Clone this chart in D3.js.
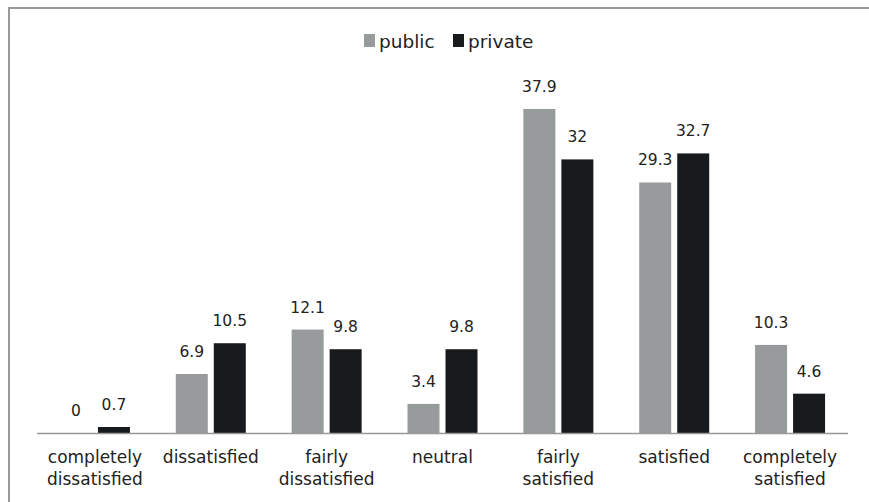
<!DOCTYPE html>
<html>
<head>
<meta charset="utf-8">
<script src="https://cdn.jsdelivr.net/npm/d3@7"></script>
<style>
  body { margin: 0; background: #fff; }
  text { font-family: "DejaVu Sans", sans-serif; fill: #222; }
</style>
</head>
<body>
<div id="chart"></div>
<script>
// grouped bars: satisfaction, public vs private
const categories = [
  ["completely", "dissatisfied"],
  ["dissatisfied"],
  ["fairly", "dissatisfied"],
  ["neutral"],
  ["fairly", "satisfied"],
  ["satisfied"],
  ["completely", "satisfied"]
];
const seriesNames = ["public", "private"];
const publicValues = [0, 6.9, 12.1, 3.4, 37.9, 29.3, 10.3];
const privateValues = [0.7, 10.5, 9.8, 9.8, 32, 32.7, 4.6];
const colors = {public: "#989b9b", private: "#181b1d"};

const width = 869, height = 502;
const margin = {top: 91, left: 37, right: 21, bottom: 69};

const data = categories.map((c, i) => ({
  key: c.join(" "),
  lines: c,
  public: publicValues[i],
  private: privateValues[i]
}));

const svg = d3.select("#chart")
  .append("svg")
  .attr("width", width)
  .attr("height", height);

// frame (only top and left edges visible)
svg.append("path")
  .attr("d", `M9,${height} V8 H${width}`)
  .attr("fill", "none")
  .attr("stroke", "#999")
  .attr("stroke-width", 2);

const x0 = d3.scaleBand()
  .domain(data.map(d => d.key))
  .range([margin.left, width - margin.right]);

const x1 = d3.scaleBand()
  .domain(seriesNames)
  .range([x0.bandwidth() / 2 - 35, x0.bandwidth() / 2 + 35])
  .paddingInner(0.158);

const y = d3.scaleLinear()
  .domain([0, 40])
  .range([height - margin.bottom, margin.top]);

const groups = svg.selectAll(".grp")
  .data(data)
  .enter()
  .append("g")
  .attr("class", "grp")
  .attr("transform", d => `translate(${x0(d.key)},0)`);

groups.selectAll("rect")
  .data(d => seriesNames.map(s => ({s: s, v: d[s]})))
  .enter()
  .append("rect")
  .attr("x", d => x1(d.s))
  .attr("width", x1.bandwidth())
  .attr("y", d => y(d.v))
  .attr("height", d => y(0) - y(d.v))
  .attr("fill", d => colors[d.s]);

// value labels
groups.selectAll(".label")
  .data(d => seriesNames.map(s => ({s: s, v: d[s]})))
  .enter()
  .append("text")
  .attr("class", "label")
  .attr("x", d => x1(d.s) + x1.bandwidth() / 2)
  .attr("y", d => y(d.v) - 17)
  .attr("text-anchor", "middle")
  .attr("font-size", "15.5px")
  .text(d => d.v);

// baseline
svg.append("line")
  .attr("x1", margin.left)
  .attr("x2", width - margin.right)
  .attr("y1", y(0) + 0.5)
  .attr("y2", y(0) + 0.5)
  .attr("stroke", "#999")
  .attr("stroke-width", 1.5);

// category labels
const cat = groups.append("text")
  .attr("text-anchor", "middle")
  .attr("font-size", "17px");
cat.selectAll("tspan")
  .data(d => d.lines)
  .enter()
  .append("tspan")
  .attr("x", x0.bandwidth() / 2)
  .attr("y", (d, i) => y(0) + 30 + i * 22)
  .text(d => d);

// legend
const legend = svg.append("g");
const legendX = [364, 453];
seriesNames.forEach((s, i) => {
  legend.append("rect")
    .attr("x", legendX[i])
    .attr("y", 34)
    .attr("width", 11)
    .attr("height", 13)
    .attr("fill", colors[s]);
  legend.append("text")
    .attr("x", legendX[i] + 15)
    .attr("y", 48)
    .attr("font-size", "18.5px")
    .text(s);
});
</script>
</body>
</html>
